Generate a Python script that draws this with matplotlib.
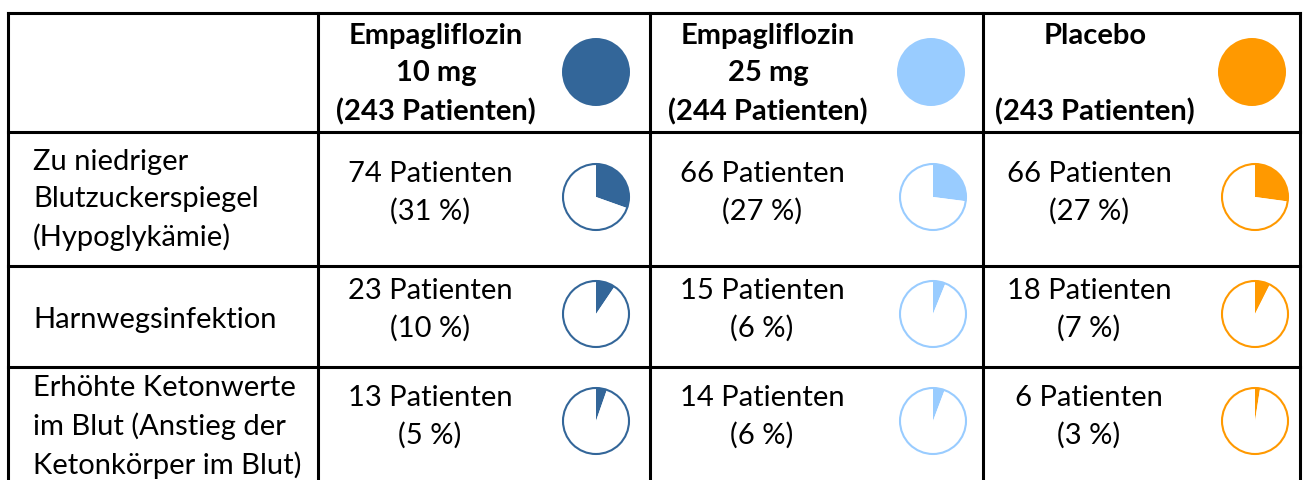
import matplotlib.pyplot as plt

# Table content
groups = ["Empagliflozin\n10 mg\n(243 Patienten)",
          "Empagliflozin\n25 mg\n(244 Patienten)",
          "Placebo\n\n(243 Patienten)"]
group_sizes = [243, 244, 243]
colors = ["#336699", "#99CCFF", "#FF9900"]

events = ["Zu niedriger\nBlutzuckerspiegel\n(Hypoglykämie)",
          "Harnwegsinfektion",
          "Erhöhte Ketonwerte\nim Blut (Anstieg der\nKetonkörper im Blut)"]
counts = [[74, 66, 66],
          [23, 15, 18],
          [13, 14, 6]]
percents = [[31, 27, 27],
            [10, 6, 7],
            [5, 6, 3]]

W, H = 1303, 480
fig = plt.figure(figsize=(W / 100, H / 100), dpi=100)
ax = fig.add_axes([0, 0, 1, 1])
ax.set_xlim(0, W)
ax.set_ylim(0, H)
ax.set_aspect("equal")
ax.axis("off")

def Y(py):
    # pixel row (from top) -> data y
    return H - py

font = "Lato"
fs = 21

# grid lines
col_x = [8, 318, 650, 983, 1300]
row_y = [13, 132, 266, 367]
for x in col_x:
    ax.plot([x, x], [Y(row_y[0]), Y(H + 5)], color="black", lw=2.2,
            solid_capstyle="projecting")
for y in row_y:
    ax.plot([col_x[0], col_x[-1]], [Y(y), Y(y)], color="black", lw=2.2,
            solid_capstyle="projecting")

text_x = [436, 768, 1095]
pie_x = [596, 933, 1255]
head_pie_x = [596, 931, 1252]

# header
for j, g in enumerate(groups):
    ax.text(text_x[j], Y(74), g, ha="center", va="center", fontsize=fs,
            fontweight="bold", family=font, linespacing=1.54)
    ax.pie([1], colors=[colors[j]], center=(head_pie_x[j], Y(72)),
           radius=34, startangle=90, counterclock=False,
           wedgeprops=dict(linewidth=0), frame=True)

# rows
row_center = [200, 317, 424]
label_y = [200, 320, 427]
for i, ev in enumerate(events):
    ax.text(33, Y(label_y[i]), ev, ha="left", va="center", fontsize=fs,
            family=font, linespacing=1.52)
    for j in range(3):
        frac = counts[i][j] / group_sizes[j]
        ax.text(text_x[j] - 6, Y(row_center[i] - 7),
                f"{counts[i][j]} Patienten\n({percents[i][j]} %)",
                ha="center", va="center", fontsize=fs, family=font,
                linespacing=1.52)
        cy = Y(row_center[i] - 3)
        ax.pie([frac, 1 - frac], colors=[colors[j], "white"],
               center=(pie_x[j], cy), radius=33, startangle=90,
               counterclock=False, wedgeprops=dict(linewidth=0), frame=True)
        ax.add_patch(plt.Circle((pie_x[j], cy), 33, fill=False,
                                edgecolor=colors[j], lw=1.5))

ax.set_xlim(0, W)
ax.set_ylim(0, H)
ax.axis("off")
fig.savefig("out.png", dpi=100)
